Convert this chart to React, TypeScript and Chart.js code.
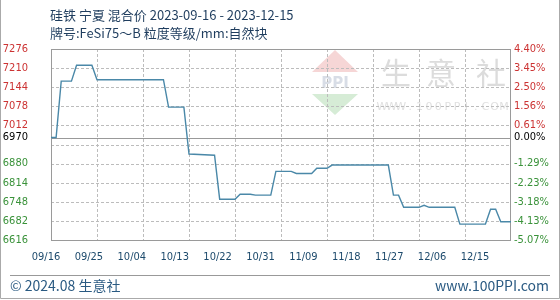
import React, { useEffect, useRef } from "react";
import { Chart, registerables } from "chart.js";

Chart.register(...registerables);

const titleLine1 = "硅铁 宁夏 混合价 2023-09-16 - 2023-12-15";
const titleLine2 = "牌号:FeSi75～B 粒度等级/mm:自然块";
const footerLeft = "© 2024.08 生意社";
const footerRight = "www.100PPI.com";
const watermarkText = "生意社";
const watermarkUrl = "WWW.100PPI.COM";

const xTickLabels = ["09/16", "09/25", "10/04", "10/13", "10/22", "10/31", "11/09", "11/18", "11/27", "12/06", "12/15"];
const xTickDays = [0, 9, 18, 27, 36, 45, 54, 63, 72, 81, 90];

// day offset from 2023-09-16
const dayOffsets = [0, 1, 2, 4, 5, 8, 9, 22, 23, 26, 27, 32, 33, 36, 37, 39, 40, 43, 44, 47, 48, 51, 52, 54, 55, 66, 67, 68, 69, 72, 73, 74, 79, 80, 85, 86, 87, 88, 90];
const prices = [6970, 6970, 7165, 7165, 7220, 7220, 7170, 7170, 7075, 7075, 6913, 6909, 6757, 6757, 6774, 6774, 6771, 6771, 6853, 6853, 6846, 6846, 6864, 6864, 6875, 6875, 6771, 6771, 6729, 6729, 6736, 6729, 6729, 6671, 6671, 6722, 6722, 6679, 6679];

const baseValue = 6970;
const leftTickValues = [6616, 6682, 6748, 6814, 6880, 6946, 6970, 7012, 7078, 7144, 7210, 7276];
const leftTickLabels = ["6616", "6682", "6748", "6814", "6880", "", "6970", "7012", "7078", "7144", "7210", "7276"];
const rightTickLabels = ["-5.07%", "-4.13%", "-3.18%", "-2.23%", "-1.29%", "", "0.00%", "0.61%", "1.56%", "2.50%", "3.45%", "4.40%"];

const RED = "#cc3333";
const GREEN = "#3a923a";
const GRID = "#bcbcbc";
const TICK_FONT = "'DejaVu Sans Condensed', 'DejaVu Sans', sans-serif";
const CJK_FONT = "'Noto Sans CJK SC', 'Noto Sans', sans-serif";

function tickColor(value: number) {
  if (value > baseValue) return RED;
  if (value < baseValue) return GREEN;
  return "#000000";
}

const decorPlugin = {
  id: "decor",
  beforeDatasetsDraw(chart: any) {
    const ctx = chart.ctx;
    const a = chart.chartArea;
    const y = chart.scales.y;
    const x = chart.scales.x;
    ctx.save();
    // watermark logo
    ctx.fillStyle = "#f6d6d6";
    ctx.beginPath();
    ctx.moveTo(335, 50);
    ctx.lineTo(358, 72);
    ctx.lineTo(312, 72);
    ctx.closePath();
    ctx.fill();
    ctx.fillStyle = "#d6ecd6";
    ctx.beginPath();
    ctx.moveTo(312, 94);
    ctx.lineTo(358, 94);
    ctx.lineTo(335, 115);
    ctx.closePath();
    ctx.fill();
    ctx.fillStyle = "#d8dde6";
    ctx.font = "bold 15px 'DejaVu Sans', sans-serif";
    ctx.textAlign = "center";
    ctx.textBaseline = "middle";
    ctx.fillText("PPI", 335, 84);
    ctx.fillStyle = "#dcdcdc";
    ctx.font = "30px " + CJK_FONT;
    const chars = Array.from(watermarkText);
    const cx = [396, 441, 491];
    chars.forEach((c, i) => ctx.fillText(c, cx[i], 73));
    ctx.font = "11px 'DejaVu Sans', sans-serif";
    ctx.fillStyle = "#e0e0e0";
    const urlChars = Array.from(watermarkUrl);
    const startX = 382;
    const step = 122 / (urlChars.length - 1);
    urlChars.forEach((c, i) => ctx.fillText(c, startX + i * step, 107));
    // dashed grid at the scales' tick values
    ctx.strokeStyle = GRID;
    ctx.lineWidth = 1;
    ctx.setLineDash([3, 2]);
    for (const v of leftTickValues) {
      if (v === baseValue || v === leftTickValues[0] || v === leftTickValues[leftTickValues.length - 1]) continue;
      const py = Math.round(y.getPixelForValue(v)) + 0.5;
      ctx.beginPath();
      ctx.moveTo(a.left, py);
      ctx.lineTo(a.right, py);
      ctx.stroke();
    }
    for (const d of xTickDays) {
      if (d === xTickDays[0] || d === xTickDays[xTickDays.length - 1]) continue;
      const px = Math.round(x.getPixelForValue(d)) + 0.5;
      ctx.beginPath();
      ctx.moveTo(px, a.top);
      ctx.lineTo(px, a.bottom);
      ctx.stroke();
    }
    ctx.setLineDash([]);
    // baseline
    const by = Math.round(y.getPixelForValue(baseValue)) + 0.5;
    ctx.strokeStyle = "#999999";
    ctx.lineWidth = 1;
    ctx.beginPath();
    ctx.moveTo(a.left, by);
    ctx.lineTo(a.right, by);
    ctx.stroke();
    // plot border
    ctx.strokeStyle = "#9a9a9a";
    ctx.strokeRect(Math.round(a.left) + 0.5, Math.round(a.top) + 0.5, Math.round(a.right - a.left) - 1, Math.round(a.bottom - a.top));
    ctx.restore();
  },
  afterDraw(chart: any) {
    const ctx = chart.ctx;
    const a = chart.chartArea;
    const x = chart.scales.x;
    ctx.save();
    // titles
    ctx.fillStyle = "#1f3d5e";
    ctx.font = "13px " + CJK_FONT;
    ctx.textAlign = "left";
    ctx.textBaseline = "middle";
    ctx.fillText(titleLine1, 50, 15);
    ctx.fillText(titleLine2, 50, 33);
    // x labels (drawn compressed relative to grid, as in the source)
    ctx.fillStyle = "#1d4a6c";
    ctx.font = "11px " + TICK_FONT;
    ctx.textAlign = "center";
    const p0 = x.getPixelForValue(xTickDays[0]) - 5;
    const p1 = x.getPixelForValue(xTickDays[xTickDays.length - 1]) - 36;
    xTickLabels.forEach((lab, i) => {
      const px = p0 + (p1 - p0) * (xTickDays[i] - xTickDays[0]) / (xTickDays[xTickDays.length - 1] - xTickDays[0]);
      ctx.fillText(lab, px, a.bottom + 17);
    });
    // footer
    ctx.strokeStyle = "#999999";
    ctx.lineWidth = 1;
    ctx.beginPath();
    ctx.moveTo(10, 275.5);
    ctx.lineTo(550, 275.5);
    ctx.stroke();
    ctx.fillStyle = "#2a5a82";
    ctx.font = "14px " + CJK_FONT;
    ctx.textAlign = "left";
    ctx.fillText(footerLeft, 10, 286);
    ctx.textAlign = "right";
    ctx.fillText(footerRight, 549, 286);
    // outer frame
    ctx.strokeStyle = "#aaaaaa";
    ctx.beginPath();
    ctx.moveTo(0.5, 0);
    ctx.lineTo(0.5, 298.5);
    ctx.lineTo(559.5, 298.5);
    ctx.lineTo(559.5, 0);
    ctx.stroke();
    ctx.restore();
  },
};

export default function App() {
  const ref = useRef<HTMLCanvasElement | null>(null);
  useEffect(() => {
    document.body.style.margin = "0";
    const canvas = ref.current;
    if (!canvas) return;
    const points = dayOffsets.map((d, i) => ({ x: d, y: prices[i] }));
    const chart = new Chart(canvas, {
      type: "line",
      data: {
        datasets: [
          {
            data: points,
            borderColor: "#4a88a8",
            borderWidth: 1.4,
            pointRadius: 0,
            tension: 0,
            fill: false,
            yAxisID: "y",
          },
        ],
      },
      options: {
        animation: false,
        responsive: false,
        devicePixelRatio: 1,
        layout: { padding: { top: 49, left: 0, right: 0, bottom: 0 } },
        plugins: { legend: { display: false }, tooltip: { enabled: false }, title: { display: false } },
        scales: {
          x: {
            type: "linear",
            min: 0,
            max: 90,
            afterBuildTicks: (s: any) => {
              s.ticks = xTickDays.map((v) => ({ value: v }));
            },
            afterFit: (s: any) => {
              s.height = 60;
            },
            ticks: { display: false },
            grid: { display: false, drawTicks: false },
            border: { display: false },
          },
          y: {
            type: "linear",
            position: "left",
            min: 6616,
            max: 7276,
            afterBuildTicks: (s: any) => {
              s.ticks = leftTickValues.map((v) => ({ value: v }));
            },
            afterFit: (s: any) => {
              s.width = 51;
            },
            ticks: {
              autoSkip: false,
              padding: 23,
              callback: (_v: any, i: number) => leftTickLabels[i],
              color: (c: any) => tickColor(c.tick.value),
              font: { family: TICK_FONT, size: 11 },
            },
            grid: { display: false, drawTicks: false },
            border: { display: false },
          },
          y1: {
            type: "linear",
            position: "right",
            min: 6616,
            max: 7276,
            afterBuildTicks: (s: any) => {
              s.ticks = leftTickValues.map((v) => ({ value: v }));
            },
            afterFit: (s: any) => {
              s.width = 49;
            },
            ticks: {
              autoSkip: false,
              padding: 3,
              callback: (_v: any, i: number) => rightTickLabels[i],
              color: (c: any) => tickColor(c.tick.value),
              font: { family: TICK_FONT, size: 11 },
            },
            grid: { display: false, drawTicks: false },
            border: { display: false },
          },
        },
      },
      plugins: [decorPlugin],
    });
    return () => chart.destroy();
  }, []);
  return <canvas ref={ref} width={560} height={300} style={{ display: "block", width: 560, height: 300 }} />;
}
